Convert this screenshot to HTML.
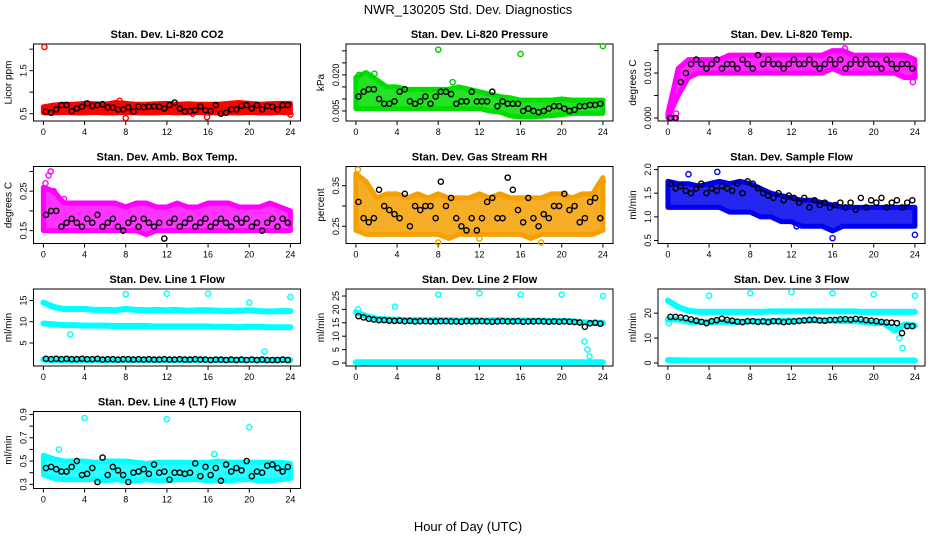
<!DOCTYPE html>
<html><head><meta charset="utf-8"><style>
body{margin:0;background:#fff}
svg{display:block;font-family:"Liberation Sans",sans-serif}
</style></head><body>
<svg id="c" width="936" height="540" viewBox="0 0 936 540">
<text x="468" y="14" text-anchor="middle" font-size="13">NWR_130205  Std. Dev. Diagnostics</text>
<text x="468" y="531" text-anchor="middle" font-size="13">Hour of Day (UTC)</text>
</svg>
<script>
const xTicks=[0,4,8,12,16,20,24];
// CO2
const co2Lo=[0.52,0.52,0.53,0.52,0.52,0.53,0.52,0.52,0.53,0.52,0.52,0.52,0.53,0.52,0.52,0.53,0.52,0.52,0.52,0.52,0.53,0.52,0.52,0.53,0.52];
const co2Hi=[0.66,0.7,0.72,0.72,0.74,0.73,0.72,0.76,0.74,0.72,0.72,0.73,0.74,0.72,0.73,0.72,0.72,0.72,0.74,0.76,0.74,0.72,0.73,0.74,0.74];
const co2Blk=[0.55,0.52,0.6,0.7,0.7,0.56,0.62,0.66,0.74,0.68,0.7,0.72,0.65,0.64,0.6,0.6,0.65,0.55,0.66,0.65,0.66,0.67,0.66,0.62,0.7,0.76,0.62,0.55,0.56,0.58,0.67,0.58,0.56,0.7,0.5,0.52,0.6,0.6,0.68,0.7,0.62,0.7,0.6,0.68,0.66,0.6,0.7,0.7];
const co2Out=[[0.1,2.05],[8,0.4],[15.9,0.42],[24,0.48],[7.4,0.8],[14.5,0.5]];
// Pressure
const prLo=[0.006,0.006,0.006,0.006,0.006,0.006,0.006,0.006,0.006,0.006,0.006,0.006,0.006,0.005,0.0045,0.003,0.0025,0.0025,0.0028,0.003,0.0035,0.004,0.004,0.004,0.004];
const prHi=[0.019,0.021,0.018,0.015,0.015,0.014,0.014,0.014,0.014,0.014,0.015,0.014,0.013,0.012,0.011,0.0105,0.0095,0.0095,0.0095,0.0095,0.01,0.0095,0.0095,0.0095,0.0095];
const prBlk=[0.011,0.013,0.014,0.014,0.01,0.008,0.008,0.009,0.013,0.014,0.009,0.008,0.009,0.011,0.008,0.011,0.013,0.013,0.012,0.008,0.009,0.009,0.013,0.009,0.009,0.009,0.013,0.007,0.009,0.008,0.008,0.008,0.005,0.006,0.005,0.0045,0.005,0.006,0.007,0.007,0.006,0.005,0.0055,0.007,0.007,0.0075,0.0075,0.008];
const prOut=[[8,0.0305],[16,0.0287],[24,0.032],[0.3,0.02],[1.8,0.0205],[9.4,0.017]];
// Temp
const tpLo=[0,0.005,0.009,0.01,0.01,0.01,0.01,0.01,0.01,0.01,0.01,0.01,0.01,0.01,0.01,0.01,0.011,0.01,0.01,0.01,0.01,0.01,0.01,0.009,0.009];
const tpHi=[0.001,0.011,0.013,0.013,0.013,0.013,0.014,0.014,0.014,0.014,0.014,0.014,0.014,0.014,0.014,0.014,0.015,0.015,0.014,0.014,0.014,0.014,0.014,0.014,0.013];
const tpBlk=[0,0,0.008,0.01,0.012,0.013,0.012,0.011,0.012,0.013,0.011,0.012,0.012,0.011,0.013,0.012,0.011,0.014,0.012,0.013,0.012,0.012,0.011,0.012,0.013,0.012,0.012,0.013,0.012,0.011,0.012,0.013,0.012,0.013,0.011,0.012,0.013,0.012,0.013,0.012,0.012,0.011,0.013,0.012,0.011,0.012,0.012,0.011];
const tpOut=[[0.4,0],[0.6,0],[0.8,0.001],[17.2,0.0155],[23.8,0.008]];
// Amb box
const abLo=[0.15,0.15,0.15,0.15,0.15,0.15,0.15,0.15,0.15,0.15,0.14,0.15,0.15,0.15,0.15,0.15,0.15,0.15,0.15,0.15,0.15,0.15,0.15,0.15,0.15];
const abHi=[0.26,0.25,0.22,0.22,0.22,0.22,0.22,0.22,0.21,0.22,0.22,0.21,0.21,0.22,0.21,0.21,0.22,0.22,0.22,0.21,0.21,0.21,0.22,0.21,0.2];
const abBlk=[0.19,0.2,0.2,0.16,0.17,0.18,0.17,0.16,0.18,0.17,0.19,0.16,0.17,0.18,0.16,0.15,0.17,0.18,0.16,0.18,0.17,0.16,0.17,0.13,0.17,0.18,0.16,0.17,0.18,0.16,0.17,0.18,0.16,0.17,0.18,0.17,0.16,0.18,0.17,0.18,0.16,0.17,0.15,0.17,0.18,0.16,0.18,0.17];
const abOut=[[0.5,0.29],[0.7,0.3],[0.2,0.27],[1,0.25],[2,0.23]];
// RH
const rhLo=[0.24,0.23,0.23,0.23,0.23,0.23,0.23,0.23,0.23,0.22,0.23,0.23,0.23,0.23,0.23,0.23,0.23,0.22,0.23,0.23,0.23,0.23,0.23,0.23,0.24];
const rhHi=[0.38,0.36,0.32,0.33,0.33,0.32,0.33,0.32,0.33,0.32,0.32,0.32,0.33,0.32,0.33,0.32,0.32,0.32,0.32,0.33,0.33,0.32,0.33,0.33,0.37];
const rhBlk=[0.31,0.27,0.26,0.27,0.34,0.3,0.29,0.28,0.27,0.33,0.25,0.3,0.29,0.3,0.3,0.27,0.36,0.3,0.32,0.27,0.25,0.24,0.27,0.24,0.27,0.31,0.32,0.27,0.27,0.37,0.34,0.29,0.26,0.32,0.27,0.25,0.28,0.27,0.3,0.3,0.33,0.29,0.3,0.26,0.27,0.31,0.32,0.27];
const rhOut=[[0.2,0.39],[8,0.21],[12,0.22],[18,0.21],[24,0.36]];
// Sample flow
const sfLo=[1.2,1.2,1.2,1.2,1.2,1.2,1.1,1.1,1.1,1.0,1.0,0.9,0.9,0.8,0.8,0.8,0.7,0.8,0.8,0.8,0.8,0.8,0.8,0.8,0.8];
const sfHi=[1.75,1.7,1.7,1.65,1.7,1.75,1.7,1.75,1.7,1.6,1.5,1.45,1.4,1.35,1.35,1.3,1.25,1.2,1.2,1.2,1.2,1.2,1.2,1.2,1.2];
const sfBlk=[1.7,1.6,1.65,1.55,1.5,1.6,1.7,1.5,1.6,1.55,1.65,1.6,1.55,1.7,1.5,1.75,1.7,1.6,1.5,1.45,1.4,1.5,1.35,1.45,1.4,1.3,1.4,1.2,1.35,1.25,1.3,1.2,1.25,1.3,1.2,1.3,1.15,1.4,1.2,1.35,1.3,1.4,1.2,1.3,1.35,1.2,1.3,1.35];
const sfOut=[[4.8,1.95],[16,0.55],[24,0.62],[12.5,0.8],[2,1.9]];
// Line 1
const l1Up=[14.5,13.5,13,13,13,12.8,12.8,12.7,13,12.8,12.7,12.8,12.7,12.8,12.6,12.7,12.7,12.6,12.5,12.6,12.7,12.5,12.4,12.5,12.5];
const l1Mid=[9.6,9.4,9.2,9.2,9.1,9.1,9.1,9,9,9,9,8.9,8.9,8.9,8.9,8.9,8.9,8.8,8.8,8.7,8.8,8.8,8.7,8.7,8.7];
const l1Low=[1.1,1.0,1.0,1.0,1.0,1.0,1.0,1.0,1.0,1.0,1.0,1.0,1.0,1.0,1.0,1.0,1.0,1.0,1.0,1.0,1.0,1.0,1.0,1.0,1.0];
const l1Blk=[1.3,1.2,1.3,1.2,1.3,1.2,1.2,1.3,1.2,1.2,1.3,1.1,1.2,1.2,1.1,1.2,1.2,1.1,1.2,1.1,1.2,1.1,1.1,1.2,1.1,1.1,1.2,1.1,1.1,1.2,1.1,1.1,1.0,1.1,1.1,1.0,1.1,1.0,1.1,1.0,1.1,1.0,1.1,1.0,1.0,1.0,1.1,1.0];
const l1Out=[[8,16.5],[12,16.6],[16,16.6],[24,15.8],[21.5,3],[2.6,7],[20,14.5]];
// Line 2
const l2Up=[19,17.5,16.5,16.3,16.2,16,16,16,16,16,15.8,16,15.9,15.9,16,15.8,15.9,15.8,15.8,15.7,15.7,15.6,15.2,15,15];
const l2Low=[0.3,0.3,0.3,0.3,0.3,0.3,0.3,0.3,0.3,0.3,0.3,0.3,0.3,0.3,0.3,0.3,0.3,0.3,0.3,0.3,0.3,0.3,0.3,0.3,0.3];
const l2Blk=[17.5,17,16.5,16.2,16,16,15.8,15.7,15.8,15.6,15.7,15.5,15.6,15.6,15.5,15.5,15.6,15.6,15.5,15.5,15.4,15.6,15.5,15.6,15.6,15.5,15.4,15.5,15.6,15.5,15.5,15.6,15.4,15.5,15.5,15.6,15.5,15.4,15.5,15.4,15.5,15.4,15.3,15.1,13.5,14.8,15,14.7];
const l2Out=[[8,25.5],[12,26],[16,25.5],[20,25.5],[24,25],[3.8,21],[22.2,8],[22.5,5],[22.7,2.5],[0.2,20]];
// Line 3
const l3Up=[25,22.5,21,20.5,20.5,20.5,20.5,20.5,20.5,20.5,20.7,20.7,20.7,20.7,20.7,20.7,20.7,20.7,20.7,20.5,20.5,20.5,20.5,20.5,20.5];
const l3Mid=[17.5,17.5,16.5,16.5,16.5,16.5,16.5,16.5,16.7,16.7,16.8,17,17,17,17,17,17,16.8,16.8,16.5,16,16,13,15.5,15];
const l3Low=[1.2,1.1,1.0,1.0,1.0,1.0,1.0,1.0,1.0,1.0,1.0,1.0,1.0,1.0,1.0,1.0,1.0,1.0,1.0,1.0,1.0,1.0,1.0,1.0,1.0];
const l3Blk=[18.5,18.5,18.3,18,17.5,17,16.5,16,16.8,17.2,17.8,17.3,17,16.6,16.4,16.8,16.8,16.5,16.7,16.4,16.8,16.7,16.4,16.6,16.7,16.9,17.1,17.3,17.4,17.1,17,17.3,17.3,17.5,17.6,17.4,17.7,17.5,17.2,17,16.8,16.5,16.3,16.2,16,12,14.8,14.8];
const l3Out=[[4,27],[8,28],[12,28.5],[16,28],[20,27.5],[24,27],[22.5,10],[22.8,6],[0.1,16]];
// Line 4
const l4Lo=[0.38,0.35,0.34,0.34,0.34,0.34,0.33,0.34,0.33,0.33,0.34,0.33,0.33,0.34,0.34,0.34,0.33,0.33,0.33,0.34,0.34,0.33,0.33,0.34,0.35];
const l4Hi=[0.55,0.52,0.5,0.5,0.5,0.49,0.5,0.5,0.5,0.49,0.48,0.49,0.49,0.49,0.49,0.49,0.49,0.5,0.49,0.49,0.49,0.49,0.49,0.49,0.48];
const l4Blk=[0.44,0.45,0.43,0.41,0.41,0.45,0.5,0.38,0.39,0.44,0.32,0.53,0.38,0.45,0.42,0.38,0.32,0.4,0.41,0.43,0.39,0.47,0.4,0.41,0.34,0.4,0.4,0.39,0.4,0.48,0.37,0.45,0.38,0.44,0.33,0.47,0.41,0.44,0.42,0.5,0.37,0.41,0.4,0.46,0.47,0.44,0.41,0.45];
const l4Out=[[4,0.87],[12,0.86],[20,0.79],[1.5,0.6],[16.6,0.56]];

const NS='http://www.w3.org/2000/svg';
const svg=document.getElementById('c');
const colL=[33.5,346,658], rowT=[44,166.5,289,411.5], W=267, H=77;
function mk(tag,attrs,parent){const e=document.createElementNS(NS,tag);for(const k in attrs)e.setAttribute(k,attrs[k]);(parent||svg).appendChild(e);return e;}

function panel(c,r,title,ylab,ymin,ymax,yTicks,yLabels,slug){
  const L=colL[c],T=rowT[r],B=T+H;
  const g=mk('g',{});
  
  
  const x=h=>L+9.9+h*247/24;
  const y=v=>B-3-(v-ymin)/(ymax-ymin)*(H-6);
  const box=mk('rect',{x:L,y:T,width:W,height:H,fill:'none',stroke:'#000','stroke-width':1},g);
  
  
  const t=mk('text',{x:L+W/2,y:T-6,'text-anchor':'middle','font-size':11,'font-weight':'bold'},g);
  t.textContent=title;
  
  
  const yl=mk('text',{x:0,y:0,'text-anchor':'middle','font-size':10,transform:`translate(${L-22},${T+H/2}) rotate(-90)`},g);
  yl.textContent=ylab;
  
  
  const xa=mk('g',{},g);
  
  
  mk('line',{x1:x(0),x2:x(24),y1:B,y2:B,stroke:'#000'},xa);
  xTicks.forEach(h=>{mk('line',{x1:x(h),x2:x(h),y1:B,y2:B+4,stroke:'#000'},xa);
    const tt=mk('text',{x:x(h),y:B+14,'text-anchor':'middle','font-size':9},xa);tt.textContent=h;});
  const ya=mk('g',{},g);
  
  
  yTicks.forEach((v,i)=>{mk('line',{x1:L-4,x2:L,y1:y(v),y2:y(v),stroke:'#000'},ya);
    if(yLabels[i]!==''){const tt=mk('text',{x:0,y:0,'text-anchor':'middle','font-size':9,transform:`translate(${L-7},${y(v)}) rotate(-90)`},ya);tt.textContent=yLabels[i];}});
  return {g,x,y};
}
function band(p,lo,hi,color,name,op){
  let d='';lo.forEach((v,i)=>{d+=(i?'L':'M')+p.x(i)+','+p.y(v);});
  for(let i=hi.length-1;i>=0;i--)d+='L'+p.x(i)+','+p.y(hi[i]);
  const e=mk('path',{d:d+'Z',fill:color,stroke:color,'stroke-width':5,'stroke-linejoin':'round','fill-opacity':op||1},p.g);
  
  
}
function line(p,vals,color,name){
  let d='';vals.forEach((v,i)=>{d+=(i?'L':'M')+p.x(i)+','+p.y(v);});
  const e=mk('path',{d,fill:'none',stroke:color,'stroke-width':6,'stroke-linejoin':'round','stroke-linecap':'round'},p.g);
  
  
}
function pts(p,vals,color,name){
  const g=mk('g',{},p.g);
  
  
  vals.forEach((v,i)=>mk('circle',{cx:p.x(0.25+0.5*i),cy:p.y(v),r:2.6,fill:'none',stroke:color,'stroke-width':1.4},g));
}
function outs(p,arr,color,name){
  const g=mk('g',{},p.g);
  
  
  arr.forEach(a=>mk('circle',{cx:p.x(a[0]),cy:p.y(a[1]),r:2.6,fill:'none',stroke:color,'stroke-width':1.4},g));
}
let p;
p=panel(0,0,'Stan. Dev. Li-820 CO2','Licor ppm',0.4,2.05,[0.5,1,1.5,2],['0.5','','1.5',''],'co2');
band(p,co2Lo,co2Hi,'#ff0000','co2-band');outs(p,co2Out,'#ff0000','co2-outliers');pts(p,co2Blk,'#000','co2-black-points');
p=panel(1,0,'Stan. Dev. Li-820 Pressure','kPa',0.00208,0.0316,[0.005,0.01,0.015,0.02,0.025,0.03],['0.005','','','0.020','',''],'pressure');
band(p,prLo,prHi,'#00dd00','pressure-band',0.85);outs(p,prOut,'#00cc00','pressure-outliers');pts(p,prBlk,'#000','pressure-black-points');
p=panel(2,0,'Stan. Dev. Li-820 Temp.','degrees C',0,0.0158,[0,0.005,0.01,0.015],['0.000','','0.010',''],'temp');
band(p,tpLo,tpHi,'#ff00ff','temp-band',0.85);outs(p,tpOut,'#ff00ff','temp-outliers');pts(p,tpBlk,'#000','temp-black-points');
p=panel(0,1,'Stan. Dev. Amb. Box Temp.','degrees C',0.125,0.305,[0.15,0.2,0.25,0.3],['0.15','','0.25',''],'ambbox');
band(p,abLo,abHi,'#ff00ff','ambbox-band',0.8);outs(p,abOut,'#ff00ff','ambbox-outliers');pts(p,abBlk,'#000','ambbox-black-points');
p=panel(1,1,'Stan. Dev. Gas Stream RH','percent',0.215,0.39,[0.25,0.3,0.35],['0.25','','0.35'],'rh');
band(p,rhLo,rhHi,'#f5a000','rh-band',0.85);outs(p,rhOut,'#f0a000','rh-outliers');pts(p,rhBlk,'#000','rh-black-points');
p=panel(2,1,'Stan. Dev. Sample Flow','ml/min',0.5,2.0,[0.5,1,1.5,2],['0.5','1.0','1.5','2.0'],'sampleflow');
band(p,sfLo,sfHi,'#0000ee','sampleflow-band',0.85);outs(p,sfOut,'#0000ee','sampleflow-outliers');pts(p,sfBlk,'#000','sampleflow-black-points');
p=panel(0,2,'Stan. Dev. Line 1 Flow','ml/min',0.3,17,[5,10,15],['5','10','15'],'line1');
line(p,l1Up,'#00ffff','line1-upper');line(p,l1Mid,'#00ffff','line1-middle');line(p,l1Low,'#00ffff','line1-lower');outs(p,l1Out,'#00ffff','line1-outliers');pts(p,l1Blk,'#000','line1-black-points');
p=panel(1,2,'Stan. Dev. Line 2 Flow','ml/min',0,26.5,[0,5,10,15,20,25],['0','5','10','15','20','25'],'line2');
line(p,l2Up,'#00ffff','line2-upper');line(p,l2Low,'#00ffff','line2-lower');outs(p,l2Out,'#00ffff','line2-outliers');pts(p,l2Blk,'#000','line2-black-points');
p=panel(2,2,'Stan. Dev. Line 3 Flow','ml/min',0,28.5,[0,10,20],['0','10','20'],'line3');
line(p,l3Up,'#00ffff','line3-upper');line(p,l3Mid,'#00ffff','line3-middle');line(p,l3Low,'#00ffff','line3-lower');outs(p,l3Out,'#00ffff','line3-outliers');pts(p,l3Blk,'#000','line3-black-points');
p=panel(0,3,'Stan. Dev. Line 4 (LT) Flow','ml/min',0.29,0.9,[0.3,0.4,0.5,0.6,0.7,0.8,0.9],['0.3','','0.5','','0.7','','0.9'],'line4');
band(p,l4Lo,l4Hi,'#00ffff','line4-band',0.85);outs(p,l4Out,'#00ffff','line4-outliers');pts(p,l4Blk,'#000','line4-black-points');
</script>
</body></html>
